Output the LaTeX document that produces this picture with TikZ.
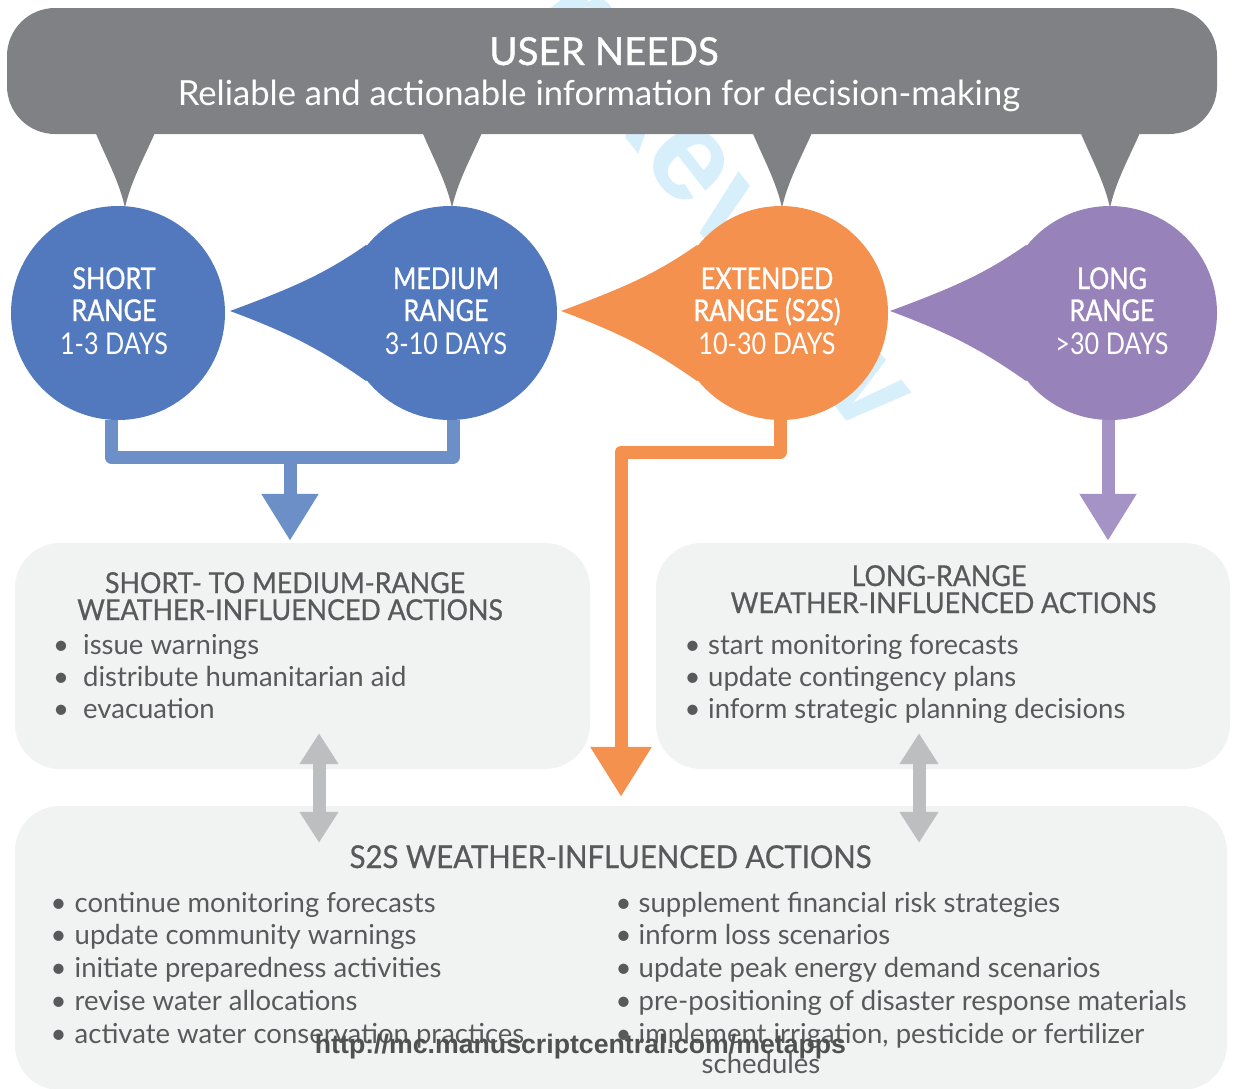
\documentclass[tikz,border=0pt]{standalone}
\usepackage{fontspec}
\setmainfont{Lato}
\newfontfamily\urlfont{Liberation Sans}
\newfontfamily\titlefont[FakeBold=1]{Lato}
\newfontfamily\circhead[FakeStretch=0.84,FakeBold=1]{Lato}
\newfontfamily\circday[FakeStretch=0.84]{Lato}
\newfontfamily\boxhead[FakeStretch=0.93,FakeBold=0.7]{Lato}
\usetikzlibrary{arrows.meta,calc}

\definecolor{bannergray}{HTML}{808184}
\definecolor{blueC}{HTML}{5279BD}
\definecolor{blueL}{HTML}{6D8FC8}
\definecolor{orangeC}{HTML}{F5914F}
\definecolor{purpleC}{HTML}{9782BA}
\definecolor{purpleL}{HTML}{A693C6}
\definecolor{boxfill}{HTML}{F1F2F2}
\definecolor{txtgray}{HTML}{58595B}
\definecolor{arrowgray}{HTML}{BCBEC0}
\definecolor{wmblue}{HTML}{D6EFFB}
\definecolor{urlgray}{HTML}{505050}

\tikzset{
  wm/.style={font=\urlfont\bfseries\fontsize{130}{130}\selectfont, text=wmblue, inner sep=0, rotate=-52},
  banner/.style={fill=bannergray, rounded corners=48pt, minimum width=1210pt, minimum height=126pt, inner sep=0},
  circ/.style={circle, minimum size=214pt, inner sep=0},
  circtxt/.style={text=white, inner sep=0, anchor=base, font=\circhead\fontsize{30}{30}\selectfont},
  circsub/.style={text=white, inner sep=0, anchor=base, font=\circday\fontsize{30}{30}\selectfont},
  actbox/.style={fill=boxfill, rounded corners=45pt, inner sep=0},
  head/.style={text=txtgray, inner sep=0, anchor=base, font=\boxhead\fontsize{28.8}{28.8}\selectfont},
  item/.style={text=txtgray, inner sep=0, anchor=base west, font=\fontsize{27.5}{27.5}\selectfont},
  bul/.style={text=txtgray, inner sep=0, anchor=base, font=\fontsize{27.5}{27.5}\selectfont},
  flow/.style={line width=13pt, line join=round},
  twoway/.style={line width=13pt, draw=arrowgray,
     {Triangle[width=37pt,length=31pt]}-{Triangle[width=37pt,length=31pt]}},
}

\begin{document}
\begin{tikzpicture}[x=1pt,y=-1pt]
\useasboundingbox (0,0) rectangle (1233,1088);

% watermark behind everything
\begin{scope}
\clip (0,0) rectangle (1233,1088);
\node[wm, anchor=base west] (wmR) at (582,82) {Review};
\node[wm, anchor=base east] (wmF) at (560,54) {For};
\end{scope}

% banner with its four tails
\node[banner] (un) at (612,71) {};
\node[circ] (s) at (118,313) {};
\node[circ] (m) at (450,313) {};
\node[circ] (e) at (781,313) {};
\node[circ] (l) at (1110,313) {};

\foreach \c/\dx in {s/7, m/2, e/1, l/0} {
  \fill[bannergray]
    ($(\c.north)+(\dx-35,-88)$) .. controls ($(\c.north)+(\dx-25,-58)$) and ($(\c.north)+(\dx-7,-30)$) ..
    ($(\c.north)+(\dx,2)$) .. controls ($(\c.north)+(\dx+7,-30)$) and ($(\c.north)+(\dx+25,-58)$) ..
    ($(\c.north)+(\dx+36,-88)$) -- ($(\c.north)+(\dx+36,-100)$) -- ($(\c.north)+(\dx-35,-100)$) -- cycle;
}
\node[text=white, inner sep=0, anchor=base, font=\titlefont\fontsize{38.5}{38.5}\selectfont] (unT) at (604,65) {USER NEEDS};
\node[text=white, inner sep=0, anchor=base, font=\fontsize{34.6}{34.6}\selectfont] (unS) at (599,105) {Reliable and actionable information for decision-making};

% range circles, three of them with a tail pointing left
\fill[blueC] (s.center) circle (107);
\foreach \c/\col in {m/blueC, e/orangeC, l/purpleC} {
  \fill[\col] (\c.center) circle (107);
  \fill[\col] ($(\c.center)+(-220,-2)$) .. controls ($(\c.center)+(-155,-26)$) and ($(\c.center)+(-124,-40)$) ..
    ($(\c.center)+(-84,-68)$) -- (\c.center) -- ($(\c.center)+(-84,68)$)
    .. controls ($(\c.center)+(-124,40)$) and ($(\c.center)+(-155,22)$) .. ($(\c.center)+(-220,-2)$) -- cycle;
}

\node[circtxt] (sA) at (114,289) {SHORT};
\node[circtxt] (sB) at (114,321) {RANGE};
\node[circsub] (sC) at (114,354) {1-3 DAYS};
\node[circtxt] (mA) at (446,289) {MEDIUM};
\node[circtxt] (mB) at (446,321) {RANGE};
\node[circsub] (mC) at (446,354) {3-10 DAYS};
\node[circtxt] (eA) at (767,289) {EXTENDED};
\node[circtxt] (eB) at (767,321) {RANGE (S2S)};
\node[circsub] (eC) at (767,354) {10-30 DAYS};
\node[circtxt] (lA) at (1112,289) {LONG};
\node[circtxt] (lB) at (1112,321) {RANGE};
\node[circsub] (lC) at (1112,354) {>30 DAYS};

% action boxes
\node[actbox, minimum width=575pt, minimum height=226pt] (b1) at (302.5,656) {};
\node[actbox, minimum width=574pt, minimum height=226pt] (b2) at (943,656) {};
\node[actbox, minimum width=1212pt, minimum height=284pt] (b3) at (621,948) {};

% flows from the ranges to the actions
\coordinate (bj) at (290,457);
\coordinate (oj) at (621,452);
\draw[flow, draw=blueL] ([xshift=-7pt]s.south) |- (bj) -| ([xshift=3pt]m.south);
\draw[flow, draw=blueL, -{Triangle[width=54pt,length=47pt]}, shorten >=2pt] (bj) -- (bj |- b1.north);
\draw[flow, draw=orangeC, -{Triangle[width=58pt,length=50pt]}, shorten >=9pt]
  ([xshift=-1pt]e.south) |- (oj) -- (oj |- b3.north);
\draw[flow, draw=purpleL, -{Triangle[width=54pt,length=47pt]}, shorten >=2pt]
  ([xshift=-2pt]l.south) -- ([xshift=-2pt]l.south |- b2.north);

\draw[twoway] ([xshift=16.5pt,yshift=36pt]b1.south) -- ([xshift=-302pt,yshift=-37pt]b3.north);
\draw[twoway] ([xshift=-24pt,yshift=36pt]b2.south) -- ([xshift=298pt,yshift=-37pt]b3.north);

% box texts
\node[head] (h1a) at (285,593) {SHORT- TO MEDIUM-RANGE};
\node[head] (h1b) at (290,620) {WEATHER-INFLUENCED ACTIONS};
\node[head] (h2a) at (939,586) {LONG-RANGE};
\node[head] (h2b) at (943.5,613) {WEATHER-INFLUENCED ACTIONS};
\node[head, font=\boxhead\fontsize{31.5}{31.5}\selectfont] (h3) at (610.5,868) {S2S WEATHER-INFLUENCED ACTIONS};

\foreach \t [count=\i] in {issue warnings, distribute humanitarian aid, evacuation} {
  \node[bul] (p\i) at (61,654+32*\i-32) {•};
  \node[item] (q\i) at (83,654+32*\i-32) {\t};
}
\foreach \t [count=\i] in {start monitoring forecasts, update contingency plans, inform strategic planning decisions} {
  \node[bul] (r\i) at (692.5,654+32*\i-32) {•};
  \node[item] (u\i) at (708,654+32*\i-32) {\t};
}
\foreach \t [count=\i] in {continue monitoring forecasts, update community warnings, initiate preparedness activities, revise water allocations, activate water conservation practices} {
  \node[bul] (v\i) at (58.5,912+32.75*\i-32.75) {•};
  \node[item] (w\i) at (74.5,912+32.75*\i-32.75) {\t};
}
\foreach \t [count=\i] in {supplement financial risk strategies, inform loss scenarios, update peak energy demand scenarios, pre-positioning of disaster response materials, {implement irrigation, pesticide or fertilizer}} {
  \node[bul] (x\i) at (623.5,912+32.75*\i-32.75) {•};
  \node[item] (z\i) at (638.5,912+32.75*\i-32.75) {\t};
}
\node[item, anchor=base] (z6) at (761,1073) {schedules};

\node[text=urlgray, inner sep=0, anchor=base, font=\urlfont\bfseries\fontsize{26.7}{26.7}\selectfont] (url) at (580.5,1053) {http://mc.manuscriptcentral.com/metapps};
\end{tikzpicture}
\end{document}
